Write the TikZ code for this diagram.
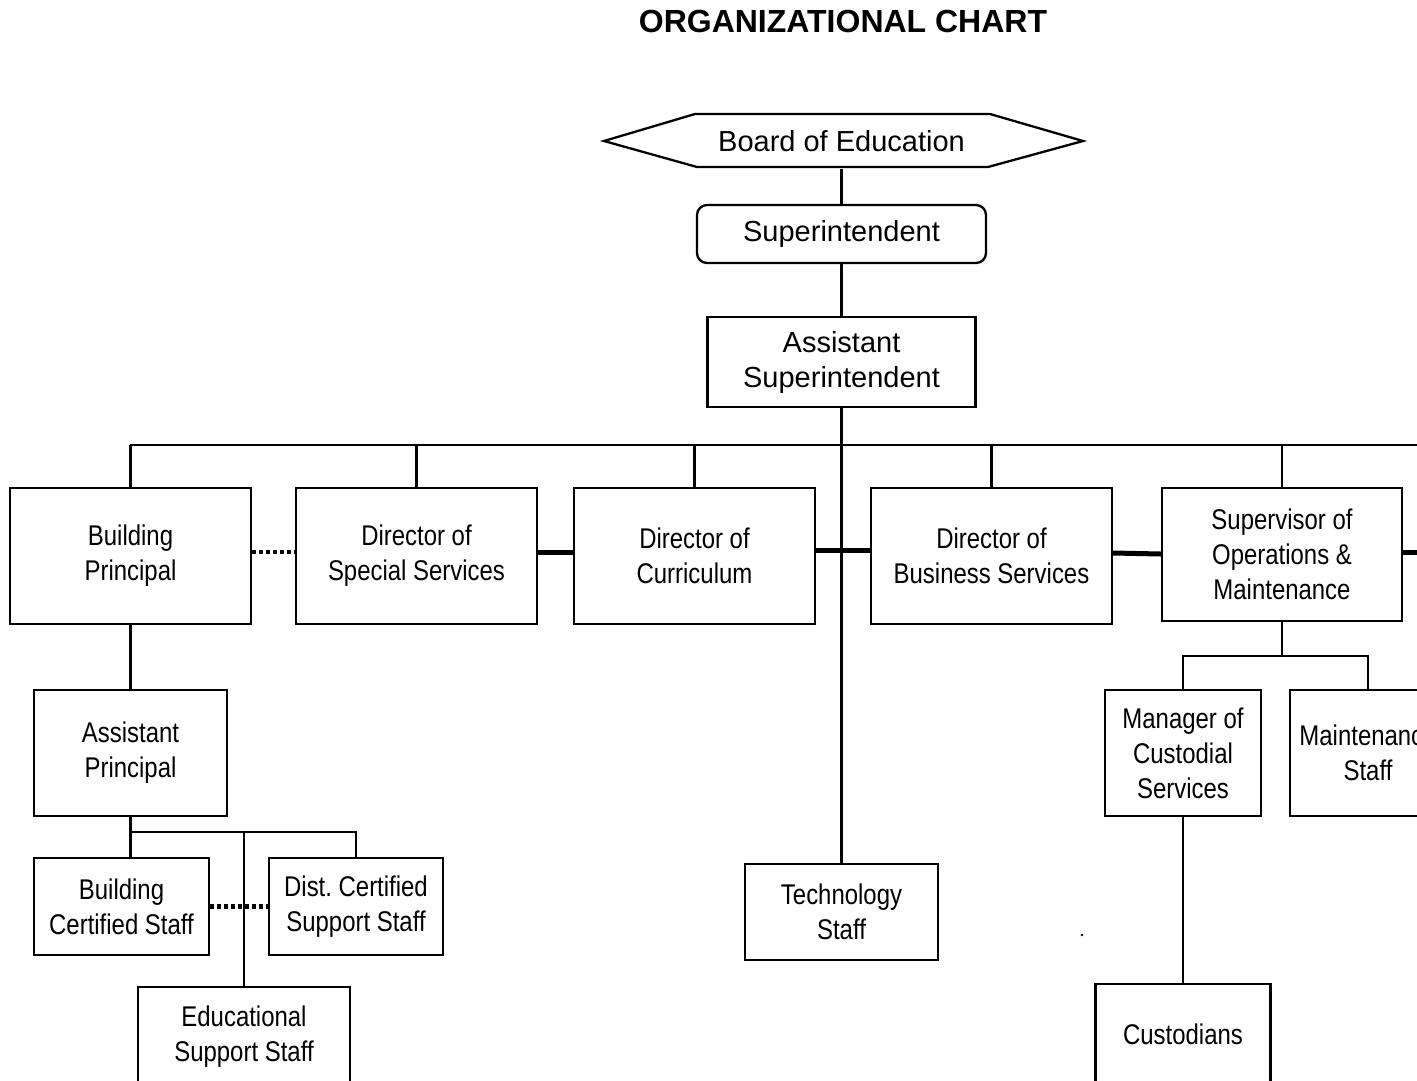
\documentclass[tikz,border=0pt]{standalone}
\usepackage{fontspec}
\setmainfont{Liberation Sans}
\newfontfamily\narrowsans{Liberation Sans}[FakeStretch=0.84]
\frenchspacing
\begin{document}
\begin{tikzpicture}[x=1pt,y=-1pt,line width=2.3pt,
  box/.style={draw,rectangle,inner sep=0pt,align=center,font=\narrowsans\fontsize{28.5}{35}\selectfont},
  bigbox/.style={draw,rectangle,inner sep=0pt,align=center,font=\fontsize{29}{35}\selectfont},
  thicklink/.style={line width=5pt},
  dotlink/.style={line width=4.5pt,dash pattern=on 4pt off 3pt}]
\useasboundingbox (0,0) rectangle (1417,1080);
\node[font=\bfseries\fontsize{32}{36}\selectfont] (title) at (843,21) {ORGANIZATIONAL CHART};
% Board of Education (hexagon)
\node[inner sep=0pt,minimum width=479pt,minimum height=53pt,font=\fontsize{29}{35}\selectfont] (boe) at (841.5,141) {Board of Education};
\draw (604,141) -- (695,114) -- (990,114) -- (1083,141) -- (988,167) -- (697,167) -- cycle;
\node[bigbox,rounded corners=10pt,minimum width=289pt,minimum height=58pt] (sup) at (841.5,234) {Superintendent};
\node[bigbox,minimum width=268pt,minimum height=90pt] (asup) at (841.5,362) {Assistant\\Superintendent};
% second row
\node[box,minimum width=241pt,minimum height=136pt] (bp) at (130.5,556) {Building\\Principal};
\node[box,minimum width=241pt,minimum height=136pt] (dss) at (416.5,556) {Director of\\Special Services};
\node[box,minimum width=241pt,minimum height=136pt] (dc) at (694.5,556) {Director of\\Curriculum};
\node[box,minimum width=241pt,minimum height=136pt] (dbs) at (991.5,556) {Director of\\Business Services};
\node[box,minimum width=240pt,minimum height=133pt] (som) at (1282,554.5) {Supervisor of\\Operations \&\\Maintenance};
% lower
\node[box,minimum width=193pt,minimum height=126pt] (ap) at (130.5,753) {Assistant\\Principal};
\node[box,minimum width=175pt,minimum height=97pt] (bcs) at (121.5,906.5) {Building\\Certified Staff};
\node[box,minimum width=174pt,minimum height=97pt] (dcss) at (356,906.5) {Dist. Certified\\Support Staff};
\node[box,minimum width=212pt,minimum height=100pt] (ess) at (244,1037) {Educational\\Support Staff};
\node[box,minimum width=193pt,minimum height=96pt] (tech) at (841.5,912) {Technology\\Staff};
\node[box,minimum width=156pt,minimum height=126pt] (mcs) at (1183,753) {Manager of\\Custodial\\Services};
\node[box,minimum width=156pt,minimum height=126pt] (ms) at (1368,753) {Maintenance\\Staff};
\node[box,minimum width=175pt,minimum height=100pt] (cust) at (1183,1034) {Custodians};
% connectors
\draw (boe.south) -- (sup.north);
\draw (sup.south) -- (asup.north);
\draw (asup.south) -- (tech.north);
\coordinate (busL) at (130,445);
\coordinate (busR) at (1425,445);
\draw (busL) -- (busR);
\foreach \n in {bp,dss,dc,dbs,som} \draw (\n.north) -- (\n.north |- busL);
\draw[dotlink] ([yshift=4pt]bp.east) -- ([yshift=4pt]dss.west);
\draw[thicklink] ([yshift=4pt]dss.east) -- ([yshift=4pt]dc.west);
\draw[thicklink] ([yshift=6pt]dc.east) -- ([yshift=6pt]dbs.west);
\draw[thicklink] ([yshift=3pt]dbs.east) -- ([yshift=0.5pt]som.west);
\coordinate (somR) at (1425,552);
\draw[thicklink] (som.east |- somR) -- (somR);
\draw (bp.south) -- (ap.north);
\coordinate (apbus) at (130.5,832);
\draw (ap.south) -- (ap.south |- bcs.north);
\draw (apbus) -- (dcss.north |- apbus) -- (dcss.north);
\draw (ess.north |- apbus) -- (ess.north);
\draw[dotlink] (bcs.east) -- (dcss.west);
\coordinate (sombus) at (1282,656);
\draw (som.south) -- (sombus);
\draw (mcs.north) -- (mcs.north |- sombus) -- (ms.north |- sombus) -- (ms.north);
\draw (mcs.south) -- (cust.north);
\fill (1082,935) circle (1.3pt);
\end{tikzpicture}
\end{document}
